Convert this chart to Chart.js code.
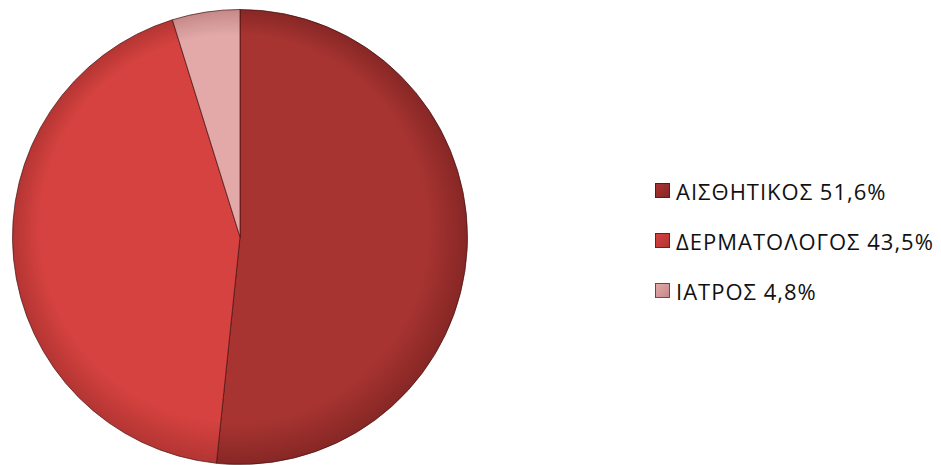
<!DOCTYPE html>
<html lang="el">
<head>
    <meta charset="UTF-8">
    <title>Πίτα</title>
    <script src="https://cdn.jsdelivr.net/npm/chart.js"></script>
    <style>
        html, body { margin: 0; padding: 0; background: #fff; }
        #wrap { position: relative; width: 941px; height: 465px; overflow: hidden; }
        #pie-box { position: absolute; left: 0; top: 0; width: 480px; height: 465px; }
        #legenda { position: absolute; left: 655px; top: 0; font-family: "Open Sans", "Noto Sans", sans-serif; font-size: 22px; letter-spacing: 1px; color: #111; }
        .item { position: absolute; left: 0; height: 30px; line-height: 30px; white-space: nowrap; }
        .quad { position: absolute; left: 0; top: 7px; width: 13px; height: 13px; border: 1px solid rgba(60,10,10,0.6); }
        .txt { position: absolute; left: 21px; top: 0; }
    </style>
</head>
<body>
<div id="wrap">
    <div id="pie-box"><canvas id="grafico"></canvas></div>
    <div id="legenda"></div>
</div>
<script>
    const categorias = ['ΑΙΣΘΗΤΙΚΟΣ', 'ΔΕΡΜΑΤΟΛΟΓΟΣ', 'ΙΑΤΡΟΣ'];
    const valores = [51.6, 43.5, 4.8];
    const rotulos = ['51,6%', '43,5%', '4,8%'];
    const cores = ['#A83431', '#D5423F', '#E2A9A8'];
    const coresEscuras = ['#862725', '#B33533', '#C58888'];

    // legenda em html
    const legenda = document.getElementById('legenda');
    categorias.forEach(function(c, i) {
        const div = document.createElement('div');
        div.className = 'item';
        div.style.top = (176 + i * 50) + 'px';
        const q = document.createElement('span');
        q.className = 'quad';
        q.style.background = 'linear-gradient(135deg, ' + cores[i] + ', ' + coresEscuras[i] + ')';
        div.appendChild(q);
        const t = document.createElement('span');
        t.className = 'txt';
        t.textContent = c + ' ' + rotulos[i];
        div.appendChild(t);
        legenda.appendChild(div);
    });

    function preenchimento(ctx) {
        const i = ctx.dataIndex;
        const area = ctx.chart.chartArea;
        if (!area) return cores[i];
        const cx = (area.left + area.right) / 2;
        const cy = (area.top + area.bottom) / 2;
        const r = Math.min(area.right - area.left, area.bottom - area.top) / 2;
        const g = ctx.chart.ctx.createRadialGradient(cx - r * 0.2, cy - r * 0.25, 0, cx, cy, r);
        g.addColorStop(0, cores[i]);
        g.addColorStop(0.85, cores[i]);
        g.addColorStop(1, coresEscuras[i]);
        return g;
    }

    new Chart(document.getElementById('grafico'), {
        type: 'pie',
        data: {
            labels: categorias,
            datasets: [{
                data: valores,
                backgroundColor: preenchimento,
                borderColor: 'rgba(70,15,15,0.7)',
                borderWidth: 1
            }]
        },
        options: {
            responsive: true,
            maintainAspectRatio: false,
            animation: false,
            layout: { padding: { top: 9, bottom: 0, left: 12, right: 12 } },
            plugins: {
                legend: { display: false },
                tooltip: { enabled: false }
            }
        }
    });
</script>
</body>
</html>
